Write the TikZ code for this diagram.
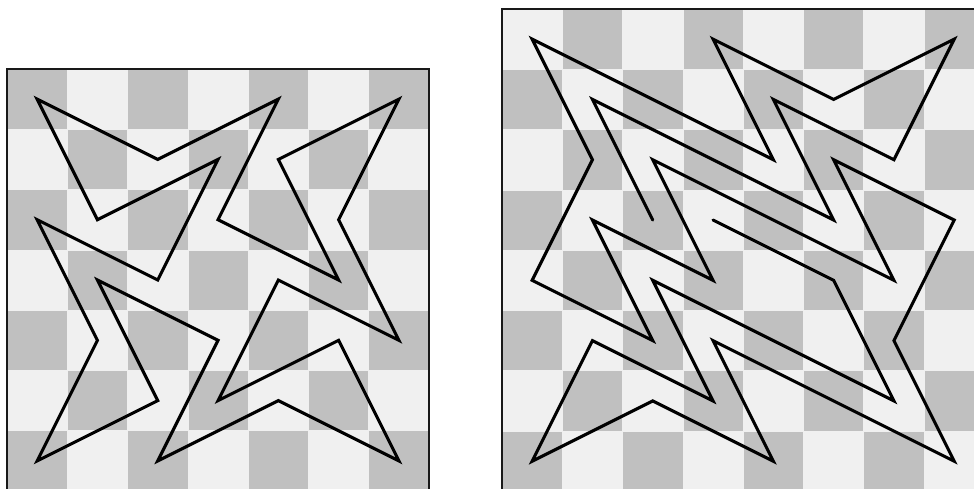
\documentclass[tikz,border=0pt]{standalone}
\usepackage{tikz}
\definecolor{caseclaire}{RGB}{240,240,240}
\definecolor{casefoncee}{RGB}{192,192,192}
\tikzset{
  trajet/.style={line width=1.45pt, line join=miter, line cap=round},
  bordure/.style={draw=black!90, line width=0.95pt}
}

\begin{document}
\begin{tikzpicture}[x=1cm, y=-1cm]
  \useasboundingbox (0,0) rectangle (16.153,8.109);
  \clip (0,0) rectangle (16.153,8.109);
  % échiquier de gauche (7 x 7), coin foncé
  \begin{scope}[shift={(0.116,1.144)}]
    \foreach \r in {0,...,6}{
      \foreach \c in {0,...,6}{
        \ifodd\numexpr\r+\c\relax \def\teinte{caseclaire}\else \def\teinte{casefoncee}\fi
        \fill[\teinte, draw=caseclaire, line width=0.3pt] (\c,\r) rectangle ++(1,1);
      }
    }
    \draw[bordure] (0,0) rectangle (7,7);
    % circuit fermé
    \draw[trajet] (1.5,4.5) -- (0.5,6.5) -- (2.5,5.5) -- (1.5,3.5) -- (3.5,4.5)
      -- (2.5,6.5) -- (4.5,5.5) -- (6.5,6.5) -- (5.5,4.5) -- (3.5,5.5)
      -- (4.5,3.5) -- (6.5,4.5) -- (5.5,2.5) -- (6.5,0.5) -- (4.5,1.5)
      -- (5.5,3.5) -- (3.5,2.5) -- (4.5,0.5) -- (2.5,1.5) -- (0.5,0.5)
      -- (1.5,2.5) -- (3.5,1.5) -- (2.5,3.5) -- (0.5,2.5) -- cycle;
  \end{scope}
  % échiquier de droite (8 x 8), coin clair
  \begin{scope}[shift={(8.325,0.149)}]
    \foreach \r in {0,...,7}{
      \foreach \c in {0,...,7}{
        \ifodd\numexpr\r+\c\relax \def\teinte{casefoncee}\else \def\teinte{caseclaire}\fi
        \fill[\teinte, draw=caseclaire, line width=0.3pt] (\c,\r) rectangle ++(1,1);
      }
    }
    \draw[bordure] (0,0) rectangle (8,8);
    % chemin ouvert
    \draw[trajet] (2.5,3.5) -- (1.5,1.5) -- (5.5,3.5) -- (4.5,1.5) -- (6.5,2.5)
      -- (7.5,0.5) -- (5.5,1.5) -- (3.5,0.5) -- (4.5,2.5) -- (0.5,0.5)
      -- (1.5,2.5) -- (0.5,4.5) -- (2.5,5.5) -- (1.5,3.5) -- (3.5,4.5)
      -- (2.5,2.5) -- (6.5,4.5) -- (5.5,2.5) -- (7.5,3.5) -- (6.5,5.5)
      -- (7.5,7.5) -- (3.5,5.5) -- (4.5,7.5) -- (2.5,6.5) -- (0.5,7.5)
      -- (1.5,5.5) -- (3.5,6.5) -- (2.5,4.5) -- (6.5,6.5) -- (5.5,4.5)
      -- (3.5,3.5);
  \end{scope}
\end{tikzpicture}
\end{document}
